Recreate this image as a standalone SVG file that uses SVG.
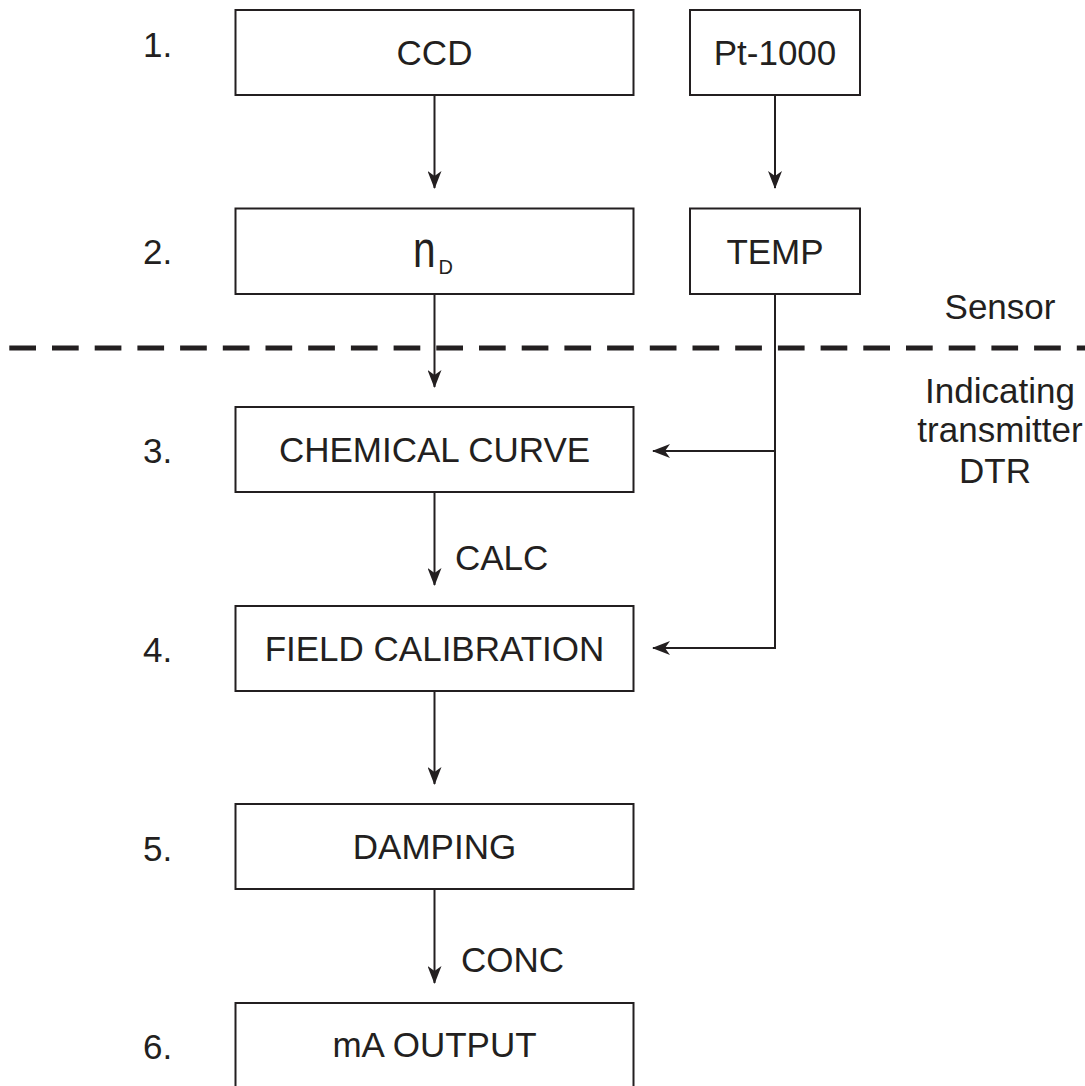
<svg xmlns="http://www.w3.org/2000/svg" width="1085" height="1086" viewBox="0 0 1085 1086">
<style>
  .box{fill:#fff;stroke:#231f20;stroke-width:2}
  .t{font-family:"Liberation Sans",Arial,sans-serif;font-size:35px;fill:#231f20}
  .c{text-anchor:middle}
  .ln{fill:none;stroke:#231f20;stroke-width:2}
  .dash{fill:none;stroke:#231f20;stroke-width:5;stroke-dasharray:26.7 16}
</style>
<defs>
  <marker id="ah" viewBox="0 0 18 14" refX="17" refY="7" markerWidth="18" markerHeight="14" markerUnits="userSpaceOnUse" orient="auto">
    <path d="M0,0 L18,7 L0,14 L5,7 Z" fill="#231f20"/>
  </marker>
</defs>
<rect width="1085" height="1086" fill="#fff"/>

<g id="labels">
  <text class="t" x="143" y="57">1.</text>
  <text class="t" x="143" y="264">2.</text>
  <text class="t" x="143" y="463">3.</text>
  <text class="t" x="143" y="662">4.</text>
  <text class="t" x="143" y="861">5.</text>
  <text class="t" x="143" y="1059">6.</text>
</g>

<g id="zone-labels">
  <text class="t c" x="1000" y="319">Sensor</text>
  <text class="t c" x="1000" y="403">Indicating</text>
  <text class="t c" x="1000" y="442">transmitter</text>
  <text class="t c" x="995" y="483">DTR</text>
</g>

<g id="connectors">
  <line class="dash" x1="9.3" y1="348" x2="1085" y2="348"/>
  <line class="ln" x1="434.5" y1="95" x2="434.5" y2="188" marker-end="url(#ah)"/>
  <line class="ln" x1="775" y1="95" x2="775" y2="188" marker-end="url(#ah)"/>
  <line class="ln" x1="434.5" y1="294" x2="434.5" y2="387" marker-end="url(#ah)"/>
  <polyline class="ln" points="775,294 775,648 653,648" marker-end="url(#ah)"/>
  <line class="ln" x1="775" y1="451" x2="653" y2="451" marker-end="url(#ah)"/>
  <line class="ln" x1="434.5" y1="492" x2="434.5" y2="585" marker-end="url(#ah)"/>
  <line class="ln" x1="434.5" y1="691" x2="434.5" y2="784" marker-end="url(#ah)"/>
  <line class="ln" x1="434.5" y1="889" x2="434.5" y2="983" marker-end="url(#ah)"/>
  <text class="t" x="455" y="570">CALC</text>
  <text class="t" x="461" y="972">CONC</text>
</g>

<g id="ccd">
  <rect class="box" x="235.5" y="10" width="398" height="85"/>
  <text class="t c" x="434.5" y="65">CCD</text>
</g>
<g id="pt1000">
  <rect class="box" x="690" y="10" width="170" height="85"/>
  <text class="t c" x="775" y="65">Pt-1000</text>
</g>
<g id="nd">
  <rect class="box" x="235.5" y="208.5" width="398" height="85.5"/>
  <text class="t" transform="translate(413,267) scale(0.78,1)" style="font-size:52px">n</text>
  <text class="t" x="438.5" y="274" style="font-size:20px">D</text>
</g>
<g id="temp">
  <rect class="box" x="690" y="208.5" width="170" height="85.5"/>
  <text class="t c" x="775" y="264">TEMP</text>
</g>
<g id="chemical-curve">
  <rect class="box" x="235.5" y="407" width="398" height="85"/>
  <text class="t c" x="434.5" y="462">CHEMICAL CURVE</text>
</g>
<g id="field-calibration">
  <rect class="box" x="235.5" y="606" width="398" height="85"/>
  <text class="t c" x="434.5" y="661">FIELD CALIBRATION</text>
</g>
<g id="damping">
  <rect class="box" x="235.5" y="804" width="398" height="85"/>
  <text class="t c" x="434.5" y="859">DAMPING</text>
</g>
<g id="ma-output">
  <rect class="box" x="235.5" y="1003" width="398" height="100"/>
  <text class="t c" x="434.5" y="1057">mA OUTPUT</text>
</g>
</svg>
